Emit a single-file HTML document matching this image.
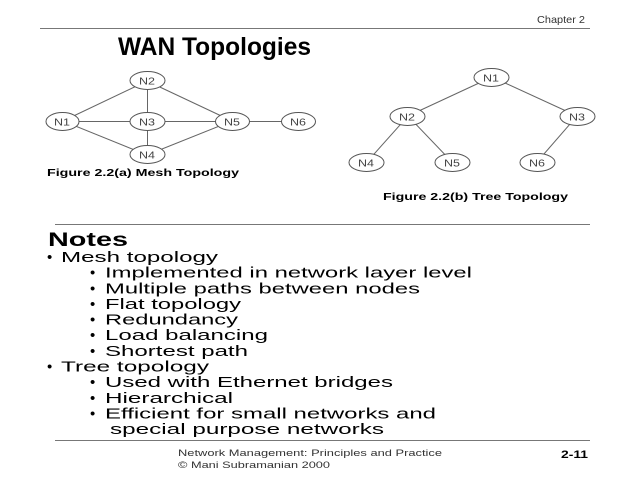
<!DOCTYPE html>
<html><head><meta charset="utf-8"><style>html,body{margin:0;padding:0;background:#fff;}svg{display:block}</style></head>
<body>
<svg width="640" height="480" viewBox="0 0 640 480" xmlns="http://www.w3.org/2000/svg" font-family="'Liberation Sans', Arial, sans-serif">
<rect width="640" height="480" fill="#fff"/>
<!-- header -->
<text x="537" y="23" font-size="10.5" fill="#333" textLength="48" lengthAdjust="spacingAndGlyphs">Chapter 2</text>
<line x1="40" y1="28.5" x2="590" y2="28.5" stroke="#777" stroke-width="1"/>
<text x="118" y="55" font-size="25" font-weight="bold" fill="#000" textLength="193" lengthAdjust="spacingAndGlyphs">WAN Topologies</text>

<!-- mesh edges -->
<g stroke="#666" stroke-width="1">
<line x1="63" y1="121" x2="147" y2="81"/>
<line x1="63" y1="121.5" x2="147" y2="121.5"/>
<line x1="63" y1="121" x2="147" y2="155"/>
<line x1="147.5" y1="81" x2="147.5" y2="155"/>
<line x1="147" y1="81" x2="232" y2="121"/>
<line x1="147" y1="121.5" x2="232" y2="121.5"/>
<line x1="147" y1="155" x2="232" y2="121"/>
<line x1="232" y1="121.5" x2="298" y2="121.5"/>
</g>
<g fill="#fff" stroke="#555" stroke-width="1">
<ellipse cx="147.5" cy="80.5" rx="17.5" ry="9"/>
<ellipse cx="62.5" cy="121.5" rx="16.5" ry="9"/>
<ellipse cx="147.5" cy="121.5" rx="17.5" ry="9"/>
<ellipse cx="232.5" cy="121.5" rx="17" ry="9"/>
<ellipse cx="298.5" cy="121.5" rx="17" ry="9"/>
<ellipse cx="147.5" cy="154.5" rx="17.5" ry="9"/>
</g>
<g font-size="10" fill="#444">
<text x="139" y="84.5" textLength="16" lengthAdjust="spacingAndGlyphs">N2</text>
<text x="54" y="125.5" textLength="16" lengthAdjust="spacingAndGlyphs">N1</text>
<text x="139" y="125.5" textLength="16" lengthAdjust="spacingAndGlyphs">N3</text>
<text x="224" y="125.5" textLength="16" lengthAdjust="spacingAndGlyphs">N5</text>
<text x="290" y="125.5" textLength="16" lengthAdjust="spacingAndGlyphs">N6</text>
<text x="139" y="158.5" textLength="16" lengthAdjust="spacingAndGlyphs">N4</text>
</g>
<text x="47" y="176" font-size="10" font-weight="bold" fill="#000" textLength="192" lengthAdjust="spacingAndGlyphs">Figure 2.2(a) Mesh Topology</text>

<!-- tree edges -->
<g stroke="#666" stroke-width="1">
<line x1="492" y1="77" x2="408" y2="116"/>
<line x1="492" y1="77" x2="577" y2="116"/>
<line x1="408" y1="116" x2="367" y2="162"/>
<line x1="408" y1="116" x2="452" y2="162"/>
<line x1="577" y1="116" x2="537" y2="162"/>
</g>
<g fill="#fff" stroke="#555" stroke-width="1">
<ellipse cx="491.5" cy="77.5" rx="17.5" ry="9"/>
<ellipse cx="407.5" cy="116.5" rx="17.5" ry="9"/>
<ellipse cx="577.5" cy="116.5" rx="17.5" ry="9"/>
<ellipse cx="366.5" cy="162.5" rx="17.5" ry="9"/>
<ellipse cx="452.5" cy="162.5" rx="17.5" ry="9"/>
<ellipse cx="537.5" cy="162.5" rx="17.5" ry="9"/>
</g>
<g font-size="10" fill="#444">
<text x="483" y="81.5" textLength="16" lengthAdjust="spacingAndGlyphs">N1</text>
<text x="399" y="120.5" textLength="16" lengthAdjust="spacingAndGlyphs">N2</text>
<text x="569" y="120.5" textLength="16" lengthAdjust="spacingAndGlyphs">N3</text>
<text x="358" y="166.5" textLength="16" lengthAdjust="spacingAndGlyphs">N4</text>
<text x="444" y="166.5" textLength="16" lengthAdjust="spacingAndGlyphs">N5</text>
<text x="529" y="166.5" textLength="16" lengthAdjust="spacingAndGlyphs">N6</text>
</g>
<text x="383" y="200" font-size="10" font-weight="bold" fill="#000" textLength="185" lengthAdjust="spacingAndGlyphs">Figure 2.2(b) Tree Topology</text>

<!-- notes -->
<line x1="55" y1="224.5" x2="590" y2="224.5" stroke="#777" stroke-width="1"/>
<text x="48" y="246" font-size="19" font-weight="bold" fill="#000" textLength="80" lengthAdjust="spacingAndGlyphs">Notes</text>
<g font-size="15" fill="#000">
<text x="47" y="262">•</text>
<text x="61" y="262" textLength="157" lengthAdjust="spacingAndGlyphs">Mesh topology</text>
<text x="90" y="277.6">•</text>
<text x="105" y="277.6" textLength="367" lengthAdjust="spacingAndGlyphs">Implemented in network layer level</text>
<text x="90" y="293.3">•</text>
<text x="105" y="293.3" textLength="315" lengthAdjust="spacingAndGlyphs">Multiple paths between nodes</text>
<text x="90" y="308.9">•</text>
<text x="105" y="308.9" textLength="136" lengthAdjust="spacingAndGlyphs">Flat topology</text>
<text x="90" y="324.6">•</text>
<text x="105" y="324.6" textLength="133" lengthAdjust="spacingAndGlyphs">Redundancy</text>
<text x="90" y="340.2">•</text>
<text x="105" y="340.2" textLength="163" lengthAdjust="spacingAndGlyphs">Load balancing</text>
<text x="90" y="355.8">•</text>
<text x="105" y="355.8" textLength="143" lengthAdjust="spacingAndGlyphs">Shortest path</text>
<text x="47" y="371.5">•</text>
<text x="61" y="371.5" textLength="148" lengthAdjust="spacingAndGlyphs">Tree topology</text>
<text x="90" y="387.1">•</text>
<text x="105" y="387.1" textLength="288" lengthAdjust="spacingAndGlyphs">Used with Ethernet bridges</text>
<text x="90" y="402.8">•</text>
<text x="105" y="402.8" textLength="128" lengthAdjust="spacingAndGlyphs">Hierarchical</text>
<text x="90" y="418.4">•</text>
<text x="105" y="418.4" textLength="331" lengthAdjust="spacingAndGlyphs">Efficient for small networks and</text>
<text x="110" y="434" textLength="274" lengthAdjust="spacingAndGlyphs">special purpose networks</text>
</g>

<!-- footer -->
<line x1="55" y1="440.5" x2="590" y2="440.5" stroke="#777" stroke-width="1"/>
<g font-size="9.5" fill="#333">
<text x="178" y="456" textLength="264" lengthAdjust="spacingAndGlyphs">Network Management: Principles and Practice</text>
<text x="178" y="468" textLength="152" lengthAdjust="spacingAndGlyphs">© Mani Subramanian 2000</text>
</g>
<text x="561" y="458" font-size="11" font-weight="bold" fill="#000" textLength="27" lengthAdjust="spacingAndGlyphs">2-11</text>
</svg>
</body></html>
